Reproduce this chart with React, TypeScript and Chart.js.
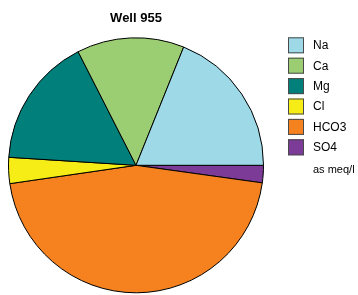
import React, { useEffect, useRef } from "react";
import { Chart, registerables } from "chart.js";

Chart.register(...registerables);

const titleText = "Well 955";
const categories = ["Na", "Ca", "Mg", "Cl", "HCO3", "SO4"];
const values = [1.89, 1.36, 1.65, 0.33, 4.55, 0.22];
const colors = ["#9dd9e6", "#9bce73", "#007f7b", "#f6ec16", "#f5811f", "#7b3b96"];
const unitNote = "as meq/l";

const FONT = "'Liberation Sans', Arial, Helvetica, sans-serif";

const legendPlugin = {
  id: "sideLegend",
  afterDraw(chart: any) {
    const { ctx, chartArea } = chart;
    const x0 = chartArea.right + 24;
    const y0 = chartArea.top;
    const step = 20.4;
    const box = 16;
    ctx.save();
    ctx.textBaseline = "middle";
    ctx.textAlign = "left";
    categories.forEach((c, i) => {
      const y = y0 + i * step;
      ctx.fillStyle = colors[i];
      ctx.fillRect(x0, y, box, box);
      ctx.strokeStyle = "#4a4a4a";
      ctx.lineWidth = 1;
      ctx.strokeRect(x0 + 0.5, y + 0.5, box - 1, box - 1);
      ctx.fillStyle = "#000";
      ctx.font = `12px ${FONT}`;
      ctx.fillText(c, x0 + 25, y + box / 2 + 0.5);
    });
    ctx.font = `11px ${FONT}`;
    ctx.fillText(unitNote, x0 + 25, y0 + (categories.length - 1) * step + box / 2 + 23);
    ctx.restore();
  },
};

export default function App() {
  const ref = useRef<HTMLCanvasElement | null>(null);
  useEffect(() => {
    if (!ref.current) return;
    const order = categories.map((_, i) => i).reverse();
    const chart = new Chart(ref.current, {
      type: "pie",
      data: {
        labels: order.map((i) => categories[i]),
        datasets: [
          {
            data: order.map((i) => values[i]),
            backgroundColor: order.map((i) => colors[i]),
            borderColor: "#000",
            borderWidth: 1,
          },
        ],
      },
      options: {
        responsive: false,
        animation: false,
        rotation: 90,
        layout: { padding: { left: 8, right: 94, top: 0, bottom: 1.7 } },
        plugins: {
          legend: { display: false },
          tooltip: { enabled: false },
          title: {
            display: true,
            text: titleText,
            fullSize: false,
            color: "#000",
            font: { family: FONT, size: 13, weight: "bold" },
            padding: { top: 10.7, bottom: 11 },
          },
        },
      },
      plugins: [legendPlugin],
    });
    return () => chart.destroy();
  }, []);
  return (
    <div style={{ position: "fixed", left: 0, top: 0, width: 358, height: 295, background: "#fff" }}>
      <canvas ref={ref} width={358} height={295} style={{ width: 358, height: 295 }} />
    </div>
  );
}
